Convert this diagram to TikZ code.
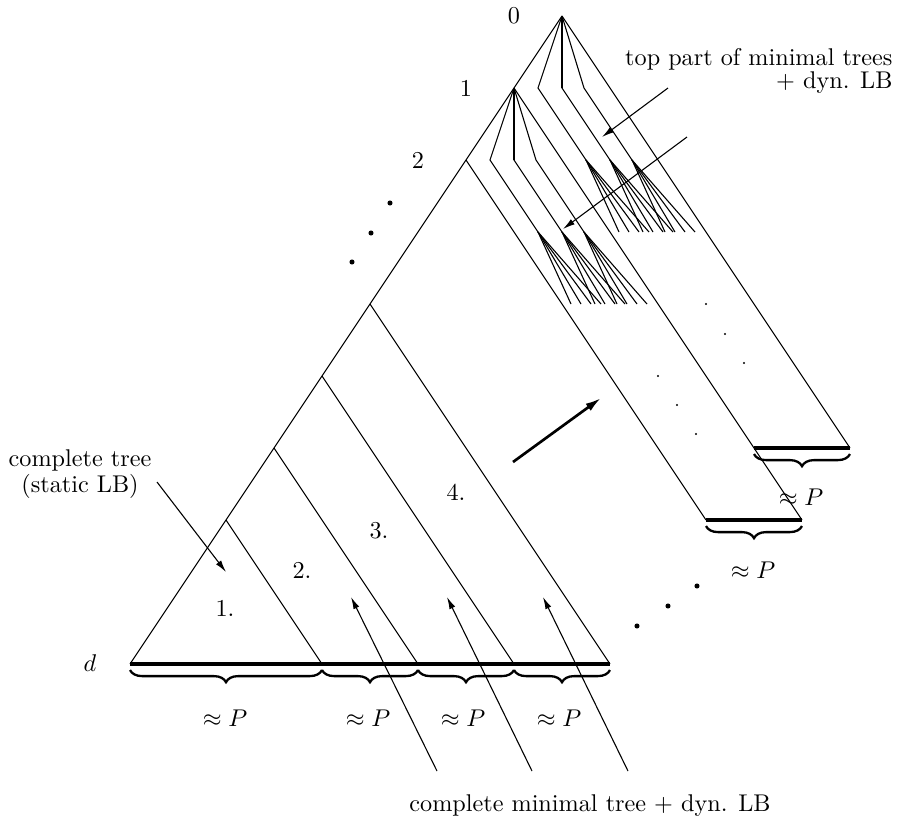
\documentclass[tikz,border=0pt]{standalone}
\usepackage{tikz}
\usetikzlibrary{arrows.meta, decorations.pathreplacing, calc}

\begin{document}
\begin{tikzpicture}[
        x=0.413pt, y=-0.413pt,
        edge/.style={line width=0.45pt},
        floor/.style={line width=1.25pt},
        spine/.style={line width=1.15pt},
        pointer/.style={-{Latex[length=5pt, width=2.6pt]}, line width=0.45pt},
        push/.style={-{Latex[length=6.5pt, width=3.6pt]}, line width=1.1pt},
        brc/.style={decorate, decoration={brace, mirror, amplitude=5pt, raise=2.5pt}, line width=0.95pt},
        lbl/.style={inner sep=0pt},
        note/.style={align=center, inner sep=0pt, font=\fontsize{10pt}{9.2pt}\selectfont}
      ]
        \useasboundingbox (0,0) rectangle (921,831);
        % levels along the left border
        \coordinate (n0) at (562,16);
        \coordinate (n1) at (514,88);
        \coordinate (n2) at (466,160);
        \coordinate (n4) at (370,304);
        \coordinate (n5) at (322,376);
        \coordinate (n6) at (274,448);
        \coordinate (n7) at (226,520);
        \coordinate (n9) at (130,664);
        % leaves
        \coordinate (b1) at (322,664);
        \coordinate (b2) at (418,664);
        \coordinate (b3) at (514,664);
        \coordinate (b4) at (610,664);
        \coordinate (q0) at (754,448);
        \coordinate (r0) at (850,448);
        \coordinate (q1) at (706,520);
        \coordinate (r1) at (802,520);

        \draw[edge] (n0) -- (n1) -- (n2) -- (n9);
        \draw[edge] (n0) -- (r0);
        \draw[edge] (n1) -- (r1);
        \draw[edge] (n2) -- (q1);
        \draw[edge] (n4) -- (b4);
        \draw[edge] (n5) -- (b3);
        \draw[edge] (n6) -- (b2);
        \draw[edge] (n7) -- (b1);
        \draw[floor] (n9) -- (b4);
        \draw[floor] (q1) -- (r1);
        \draw[floor] (q0) -- (r0);

        % top parts of the minimal trees
        \foreach \r in {n0,n1} {
            \draw[spine] (\r) -- ++(0,72);
            \foreach \dx in {-24,0,22} {
                \draw[edge] (\r) -- ++(\dx,72) -- ++(48,72) coordinate (fan);
                \foreach \fx in {33,43,53,63}
                    \draw[edge] (fan) -- ++(\fx,72);
            }
        }

        \foreach \p in {(390,203),(371,233),(352,262),(637,626),(668,606),(697,586)}
            \fill \p circle[radius=1.05pt];
        \foreach \p in {(706,304),(725,334),(744,363),(658,376),(677,405),(696,434)}
            \fill \p circle[radius=0.45pt];

        \draw[brc] (n9) -- (b1);
        \draw[brc] (b1) -- (b2);
        \draw[brc] (b2) -- (b3);
        \draw[brc] (b3) -- (b4);
        \draw[brc] (q1) -- (r1);
        \draw[brc] (q0) -- (r0);

        \node[lbl] (l0) at (514,16) {0};
        \node[lbl] (l1) at (466,88) {1};
        \node[lbl] (l2) at (418,160) {2};
        \node[lbl] (ld) at (90,663) {$d$};
        \node[lbl] (t1) at (225,608) {1.};
        \node[lbl] (t2) at (302,570) {2.};
        \node[lbl] (t3) at (379,531) {3.};
        \node[lbl] (t4) at (456,492) {4.};
        \node[lbl] (p1) at (225,718) {$\approx P$};
        \node[lbl] (p2) at (368,718) {$\approx P$};
        \node[lbl] (p3) at (463,718) {$\approx P$};
        \node[lbl] (p4) at (559,718) {$\approx P$};
        \node[lbl] (p5) at (753,570) {$\approx P$};
        \node[lbl] (p6) at (801,497) {$\approx P$};

        \node[note] (full) at (80,474) {complete tree\\(static LB)};
        \node[note, align=right, anchor=east] (tops) at (893,71) {top part of minimal trees\\+ dyn. LB};
        \node[note] (mins) at (590,806) {complete minimal tree + dyn. LB};

        \coordinate (full-a) at (157,482);
        \coordinate (full-b) at (226,572);
        \coordinate (tops-a) at (668,88);
        \coordinate (tops-b) at (602,137);
        \coordinate (tops-c) at (687,137);
        \coordinate (tops-d) at (563,229);
        \coordinate (mins-a) at (437,771);
        \coordinate (mins-b) at (351,597);
        \coordinate (mins-c) at (532,771);
        \coordinate (mins-d) at (447,597);
        \coordinate (mins-e) at (628,771);
        \coordinate (mins-f) at (543,597);
        \coordinate (go-a) at (513,462);
        \coordinate (go-b) at (601,398);

        \draw[pointer] (full-a) -- (full-b);
        \draw[pointer] (tops-a) -- (tops-b);
        \draw[pointer] (tops-c) -- (tops-d);
        \draw[pointer] (mins-a) -- (mins-b);
        \draw[pointer] (mins-c) -- (mins-d);
        \draw[pointer] (mins-e) -- (mins-f);
        \draw[push] (go-a) -- (go-b);
      \end{tikzpicture}
\end{document}
